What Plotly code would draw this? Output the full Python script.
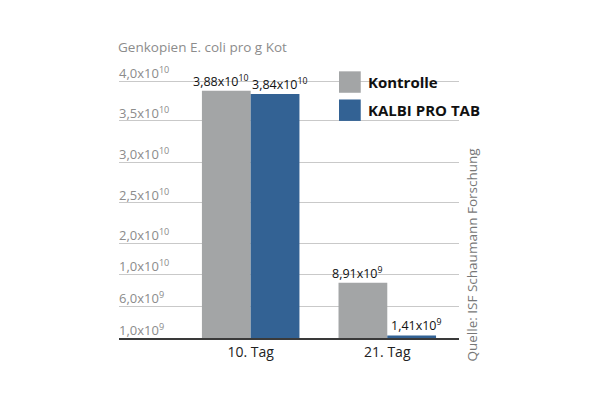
import numpy as np
import plotly.graph_objects as go

# ---- data ----
days = ["10. Tag", "21. Tag"]
kontrolle = [3.88e10, 8.91e9]
kalbi = [3.84e10, 1.41e9]
kontrolle_labels = ["3,88x10<sup>10</sup>", "8,91x10<sup>9</sup>"]
kalbi_labels = ["3,84x10<sup>10</sup>", "1,41x10<sup>9</sup>"]
tick_values = [1e9, 6e9, 1e10, 2e10, 2.5e10, 3e10, 3.5e10, 4e10]
tick_labels = ["1,0x10<sup>9</sup>", "6,0x10<sup>9</sup>", "1,0x10<sup>10</sup>",
               "2,0x10<sup>10</sup>", "2,5x10<sup>10</sup>", "3,0x10<sup>10</sup>",
               "3,5x10<sup>10</sup>", "4,0x10<sup>10</sup>"]

# ---- broken (piecewise) axis layout: where each tick sits on the drawn axis ----
axis_pos = [0, 0.395, 0.79, 1.173, 1.667, 2.17, 2.68, 3.17]

def to_axis(v):
    return np.interp(v, tick_values, axis_pos)

GREY = "#a3a5a6"
BLUE = "#336294"
FONT = "Open Sans"
BARGAP = 0.286
BAR_W = (1 - BARGAP) / 2

x_idx = list(range(len(days)))

fig = go.Figure()
fig.add_trace(go.Bar(x=x_idx, y=to_axis(kontrolle), name="Kontrolle",
                     marker=dict(color=GREY, line=dict(width=0)), showlegend=False))
fig.add_trace(go.Bar(x=x_idx, y=to_axis(kalbi), name="KALBI PRO TAB",
                     marker=dict(color=BLUE, line=dict(width=0)), showlegend=False))

annotations = []
# value labels above bars
for series, labels, side in [(kontrolle, kontrolle_labels, -1), (kalbi, kalbi_labels, 1)]:
    for i, (v, lab) in enumerate(zip(series, labels)):
        annotations.append(dict(x=i + side * BAR_W / 2, xref="x", y=float(to_axis(v)), yref="y",
                                text=lab, showarrow=False, xanchor="center", yanchor="bottom",
                                xshift=side * 5, yshift=-1,
                                font=dict(color="#111111", size=12.5, family=FONT)))

for tv, tl in zip(tick_values, tick_labels):
    annotations.append(dict(x=0, xref="paper", y=float(to_axis(tv)), yref="y",
                            text=tl, showarrow=False, xanchor="left", yanchor="bottom",
                            font=dict(color="#8c8c8c", size=13, family=FONT),
                            xshift=-2, yshift=-3))

annotations.append(dict(x=0, xref="paper", y=1.085, yref="paper",
                        text="Genkopien E. coli pro g Kot", showarrow=False,
                        xanchor="left", yanchor="middle", xshift=-3,
                        font=dict(color="#8c8c8c", size=13.5, family=FONT)))

# legend drawn as shapes + text
shapes = []
legend_items = [("Kontrolle", GREY, 0.955), ("KALBI PRO TAB", BLUE, 0.85)]
for name, col, yc in legend_items:
    shapes.append(dict(type="rect", xref="paper", yref="paper",
                       x0=0.647, x1=0.711, y0=yc - 0.04, y1=yc + 0.04,
                       fillcolor=col, line=dict(width=0)))
    annotations.append(dict(x=0.727, xref="paper", y=yc, yref="paper", text="<b>" + name + "</b>",
                            showarrow=False, xanchor="left", yanchor="middle",
                            font=dict(color="#111111", size=15, family=FONT)))

annotations.append(dict(x=1.037, xref="paper", y=0.31, yref="paper",
                        text="Quelle: ISF Schaumann Forschung", textangle=-90,
                        showarrow=False, xanchor="center", yanchor="middle",
                        font=dict(color="#777777", size=13.5, family=FONT)))

fig.update_layout(
    width=608, height=405,
    margin=dict(l=111, r=157, t=62, b=75),
    paper_bgcolor="white", plot_bgcolor="white",
    barmode="group", bargap=BARGAP, bargroupgap=0,
    xaxis=dict(range=[-0.964, 1.525], tickvals=x_idx, ticktext=days,
               showgrid=False, zeroline=False, showline=True,
               linecolor="#3a3a3a", linewidth=1.5, ticks="",
               tickfont=dict(color="#222222", size=14, family=FONT)),
    yaxis=dict(range=[0, 3.309], tickvals=axis_pos, showticklabels=False,
               showgrid=True, gridcolor="#c9c9c9", gridwidth=1,
               zeroline=False, showline=False, fixedrange=True),
    annotations=annotations, shapes=shapes,
    font=dict(family=FONT),
)

fig.write_html("out.html")
